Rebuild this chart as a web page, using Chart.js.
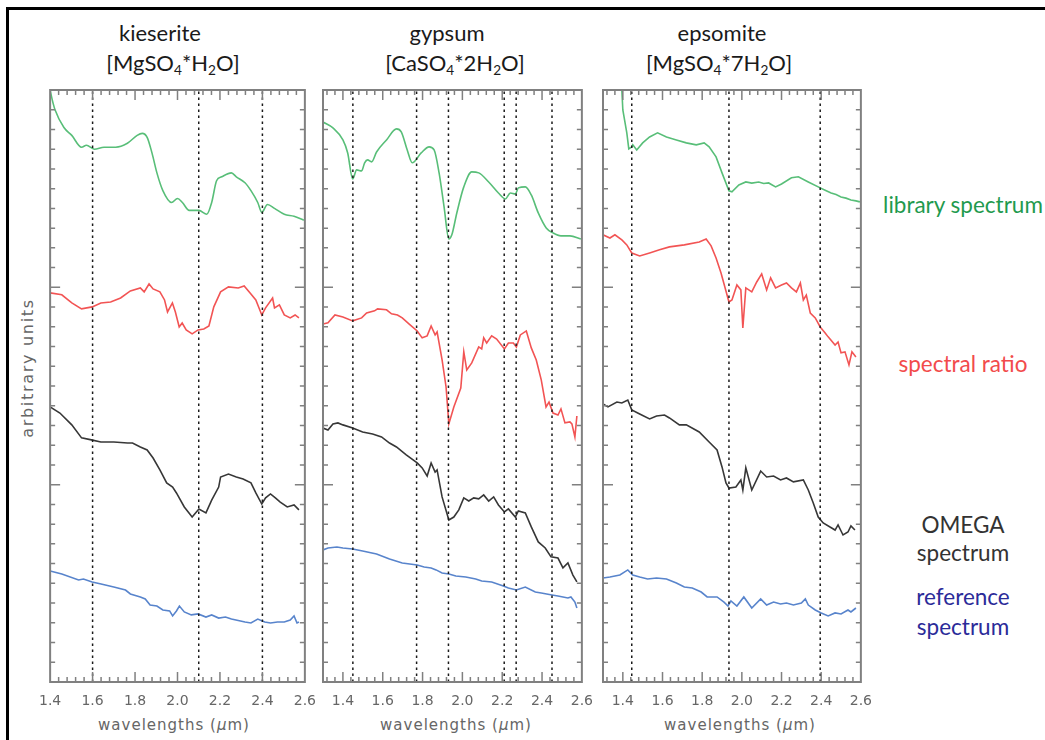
<!DOCTYPE html>
<html>
<head>
<meta charset="utf-8">
<script src="https://cdn.jsdelivr.net/npm/chart.js@4.4.1/dist/chart.umd.min.js"></script>
<style>
  html, body { margin: 0; padding: 0; background: #fff; }
  body { width: 1045px; height: 740px; position: relative; overflow: hidden; font-family: Lato, "Open Sans", sans-serif; }
  .frame { position: absolute; left: 6px; top: 7px; width: 1045px; height: 740px; border-left: 3px solid #000; border-top: 3px solid #000; box-sizing: border-box; }
  canvas { position: absolute; }
  .title { position: absolute; transform: translate(-50%, -50%); font-size: 22px; color: #1a1a1a; white-space: nowrap; line-height: 1; }
  .title sub { font-size: 0.62em; vertical-align: -0.28em; line-height: 0; }
  .xt { position: absolute; transform: translate(-50%, -50%); font: 15px "DejaVu Sans", sans-serif; letter-spacing: 1px; color: #666; white-space: nowrap; }
  .xt i { font-style: italic; }
  .yt { position: absolute; transform: translate(-50%, -50%) rotate(-90deg); font: 16px "DejaVu Sans", sans-serif; letter-spacing: 1.7px; color: #666; white-space: nowrap; }
  .lab { position: absolute; transform: translate(-50%, -50%); font-size: 22.5px; text-align: center; white-space: nowrap; }
</style>
</head>
<body>
<div class="frame"></div>

<div class="title" style="left:160px; top:33px;">kieserite</div>
<div class="title" style="left:173px; top:63px;">[MgSO<sub>4</sub>*H<sub>2</sub>O]</div>
<div class="title" style="left:447px; top:33px;">gypsum</div>
<div class="title" style="left:455px; top:63px;">[CaSO<sub>4</sub>*2H<sub>2</sub>O]</div>
<div class="title" style="left:722px; top:33px;">epsomite</div>
<div class="title" style="left:719px; top:63px;">[MgSO<sub>4</sub>*7H<sub>2</sub>O]</div>

<div class="yt" style="left:27px; top:368px;">arbitrary units</div>
<div class="xt" style="left:174px; top:725px;">wavelengths (<i>μ</i>m)</div>
<div class="xt" style="left:456px; top:725px;">wavelengths (<i>μ</i>m)</div>
<div class="xt" style="left:740px; top:725px;">wavelengths (<i>μ</i>m)</div>

<div class="lab" style="left:963px; top:204px; color:#1f9a4e;">library spectrum</div>
<div class="lab" style="left:963px; top:363px; color:#f24b4b;">spectral ratio</div>
<div class="lab" style="left:963px; top:539px; color:#333; line-height:28px;">OMEGA<br>spectrum</div>
<div class="lab" style="left:963px; top:612px; color:#2b2b99; line-height:30px;">reference<br>spectrum</div>

<canvas id="c1"></canvas>
<canvas id="c2"></canvas>
<canvas id="c3"></canvas>

<script>
// Wavelength tick labels (µm) shared by all three panels
const xTickValues = [1.4, 1.6, 1.8, 2.0, 2.2, 2.4, 2.6];

// ---------- kieserite [MgSO4*H2O] ----------
const kieseriteBands = [1.60, 2.10, 2.40];
const kieseriteLibrary = [
  [1.400,30.0],[1.410,29.5],[1.423,29.0],[1.465,28.1],[1.502,27.7],[1.548,27.1],[1.571,27.2],[1.608,27.0],
  [1.654,27.1],[1.709,27.1],[1.764,27.3],[1.810,27.7],[1.834,27.8],[1.857,27.6],[1.880,26.8],[1.903,25.8],
  [1.931,24.9],[1.972,24.3],[2.000,24.5],[2.023,24.3],[2.055,23.9],[2.101,23.9],[2.138,23.7],[2.161,24.3],
  [2.184,25.4],[2.208,25.6],[2.254,25.8],[2.277,25.6],[2.318,25.3],[2.346,24.9],[2.378,24.3],[2.397,23.8],
  [2.424,24.2],[2.457,24.0],[2.503,23.7],[2.549,23.6],[2.595,23.4]
];
const kieseriteRatio = [
  [1.400,19.72],[1.455,19.62],[1.502,19.21],[1.548,18.91],[1.598,19.01],[1.639,19.21],[1.685,19.26],[1.732,19.46],
  [1.778,19.82],[1.825,19.97],[1.843,19.77],[1.866,20.17],[1.885,19.92],[1.917,19.77],[1.939,19.36],[1.953,18.75],
  [1.976,19.21],[1.990,18.75],[2.008,17.99],[2.022,18.19],[2.041,17.84],[2.069,17.64],[2.097,17.84],[2.124,17.89],
  [2.148,18.04],[2.171,19.01],[2.203,19.77],[2.240,20.02],[2.286,19.97],[2.314,20.07],[2.341,19.72],[2.369,19.36],
  [2.397,18.60],[2.415,18.96],[2.448,19.46],[2.457,18.96],[2.480,19.11],[2.503,18.60],[2.531,18.45],[2.554,18.60],
  [2.572,18.45]
];
const kieseriteOmega = [
  [1.400,13.94],[1.446,13.63],[1.502,13.03],[1.548,12.37],[1.594,12.27],[1.639,12.16],[1.700,12.16],[1.765,12.11],
  [1.788,12.11],[1.825,11.91],[1.857,11.76],[1.885,11.35],[1.917,10.75],[1.949,10.09],[1.977,9.88],[1.995,9.58],
  [2.032,8.87],[2.069,8.36],[2.101,8.77],[2.134,8.57],[2.161,9.22],[2.194,9.88],[2.203,10.39],[2.240,10.54],
  [2.277,10.39],[2.309,10.29],[2.346,10.09],[2.369,9.58],[2.397,9.02],[2.415,9.33],[2.438,9.53],[2.461,9.33],
  [2.484,9.12],[2.517,8.87],[2.549,8.97],[2.572,8.72]
];
const kieseriteReference = [
  [1.400,5.63],[1.455,5.47],[1.534,5.17],[1.557,5.22],[1.598,5.07],[1.640,4.97],[1.700,4.81],[1.755,4.66],
  [1.778,4.46],[1.825,4.31],[1.848,4.21],[1.871,3.90],[1.903,3.85],[1.931,3.65],[1.963,3.60],[1.977,3.35],
  [1.995,3.60],[2.009,3.85],[2.032,3.55],[2.065,3.40],[2.097,3.45],[2.134,3.29],[2.161,3.40],[2.194,3.24],
  [2.226,3.29],[2.254,3.19],[2.318,3.04],[2.346,2.99],[2.378,3.19],[2.411,3.04],[2.438,2.99],[2.471,3.04],
  [2.503,3.04],[2.531,3.14],[2.549,3.35],[2.563,2.99],[2.572,3.04]
];

// ---------- gypsum [CaSO4*2H2O] ----------
const gypsumBands = [1.45, 1.77, 1.93, 2.21, 2.27, 2.45];
const gypsumLibrary = [
  [1.300,28.38],[1.350,28.08],[1.400,27.47],[1.424,26.81],[1.449,25.49],[1.469,25.95],[1.494,25.90],[1.509,26.31],
  [1.524,26.46],[1.544,26.36],[1.569,26.86],[1.619,27.47],[1.669,28.03],[1.693,27.88],[1.723,26.96],[1.748,26.31],
  [1.793,26.81],[1.833,27.12],[1.858,26.96],[1.883,25.80],[1.908,24.08],[1.932,22.45],[1.947,22.66],[1.972,23.77],
  [2.007,25.09],[2.047,25.85],[2.082,25.80],[2.132,25.34],[2.181,24.78],[2.216,24.48],[2.241,24.78],[2.266,24.73],
  [2.281,25.04],[2.316,25.09],[2.346,24.68],[2.381,23.77],[2.421,23.01],[2.455,22.76],[2.495,22.61],[2.540,22.61],
  [2.595,22.45]
];
const gypsumRatio = [
  [1.300,18.14],[1.325,18.20],[1.360,18.60],[1.400,18.50],[1.449,18.30],[1.494,18.45],[1.519,18.70],[1.559,18.81],
  [1.574,18.91],[1.619,18.86],[1.644,18.66],[1.674,18.60],[1.698,18.45],[1.733,18.14],[1.773,17.79],[1.798,17.44],
  [1.823,17.54],[1.843,18.04],[1.863,17.59],[1.873,17.74],[1.898,16.32],[1.918,14.95],[1.932,13.08],[1.957,13.94],
  [1.992,14.90],[2.007,16.73],[2.022,15.81],[2.047,16.17],[2.082,16.98],[2.097,16.88],[2.107,17.44],[2.122,17.18],
  [2.147,17.54],[2.172,17.38],[2.211,16.88],[2.231,17.18],[2.256,17.18],[2.271,16.98],[2.291,17.59],[2.321,17.79],
  [2.346,16.93],[2.371,16.32],[2.396,15.31],[2.420,13.94],[2.435,14.19],[2.455,13.63],[2.480,13.53],[2.495,13.84],
  [2.515,13.13],[2.540,13.18],[2.550,13.08],[2.565,12.42],[2.575,13.48]
];
const gypsumOmega = [
  [1.300,12.87],[1.325,12.77],[1.350,13.08],[1.375,13.13],[1.400,13.03],[1.449,12.87],[1.499,12.67],[1.549,12.57],
  [1.594,12.42],[1.634,12.11],[1.669,11.91],[1.718,11.51],[1.773,11.10],[1.798,10.85],[1.823,10.44],[1.843,11.10],
  [1.863,10.64],[1.873,10.75],[1.898,9.38],[1.932,8.21],[1.957,8.36],[1.982,8.72],[2.007,9.33],[2.032,9.17],
  [2.057,9.33],[2.082,9.28],[2.107,9.48],[2.132,9.17],[2.157,9.38],[2.181,8.97],[2.211,8.62],[2.231,8.77],
  [2.266,8.36],[2.281,8.67],[2.316,8.57],[2.346,7.86],[2.381,7.10],[2.416,6.79],[2.445,6.34],[2.480,6.28],
  [2.505,5.78],[2.530,6.03],[2.555,5.42],[2.575,5.07]
];
const gypsumReference = [
  [1.300,6.69],[1.325,6.79],[1.370,6.84],[1.400,6.79],[1.449,6.74],[1.499,6.64],[1.569,6.49],[1.634,6.23],
  [1.698,6.03],[1.773,5.93],[1.808,5.83],[1.843,5.78],[1.868,5.68],[1.898,5.52],[1.932,5.47],[1.967,5.37],
  [2.017,5.32],[2.067,5.22],[2.097,5.12],[2.147,5.07],[2.206,4.87],[2.231,4.76],[2.271,4.66],[2.316,4.81],
  [2.366,4.56],[2.396,4.51],[2.450,4.41],[2.480,4.36],[2.530,4.26],[2.545,4.31],[2.565,4.05],[2.575,3.75]
];

// ---------- epsomite [MgSO4*7H2O] ----------
const epsomiteBands = [1.445, 1.935, 2.395];
const epsomiteLibrary = [
  [1.390,31.5],[1.395,30.0],[1.400,28.99],[1.420,27.83],[1.430,27.02],[1.445,27.12],[1.450,27.22],[1.470,26.96],
  [1.500,27.32],[1.535,27.62],[1.575,27.83],[1.620,27.62],[1.670,27.47],[1.720,27.32],[1.770,27.22],[1.810,27.32],
  [1.835,27.12],[1.870,26.61],[1.900,25.80],[1.935,24.89],[1.950,24.84],[1.985,25.19],[2.020,25.34],[2.050,25.28],
  [2.085,25.34],[2.110,25.26],[2.135,25.29],[2.170,25.09],[2.200,25.24],[2.250,25.55],[2.285,25.60],[2.335,25.34],
  [2.395,25.04],[2.420,24.92],[2.450,24.78],[2.475,24.70],[2.500,24.58],[2.525,24.52],[2.550,24.43],[2.575,24.38],
  [2.595,24.33]
];
const epsomiteRatio = [
  [1.300,22.66],[1.335,22.50],[1.360,22.66],[1.395,22.40],[1.420,22.15],[1.445,21.74],[1.485,21.59],[1.535,21.74],
  [1.585,21.90],[1.635,22.05],[1.710,22.15],[1.785,22.30],[1.820,22.45],[1.845,22.10],[1.870,21.49],[1.895,20.73],
  [1.935,19.26],[1.950,19.36],[1.975,20.12],[1.995,19.87],[2.005,17.94],[2.020,19.97],[2.050,19.77],[2.075,20.27],
  [2.100,20.68],[2.125,19.87],[2.145,20.48],[2.170,19.97],[2.200,20.12],[2.225,20.22],[2.250,19.97],[2.275,19.77],
  [2.295,20.22],[2.310,19.36],[2.325,19.61],[2.345,18.70],[2.370,18.45],[2.395,17.99],[2.420,17.69],[2.435,17.49],
  [2.470,17.08],[2.485,17.23],[2.500,16.68],[2.520,16.73],[2.540,16.07],[2.555,16.73],[2.575,16.47]
];
const epsomiteOmega = [
  [1.300,14.09],[1.325,13.94],[1.370,14.19],[1.395,14.14],[1.425,14.29],[1.445,13.79],[1.485,13.58],[1.535,13.33],
  [1.570,13.48],[1.610,13.53],[1.635,13.38],[1.685,13.03],[1.720,13.03],[1.785,12.67],[1.835,12.16],[1.875,11.76],
  [1.900,10.90],[1.920,10.09],[1.935,9.83],[1.970,9.88],[1.995,10.24],[2.005,9.73],[2.020,10.85],[2.050,9.73],
  [2.095,10.69],[2.125,10.39],[2.160,10.44],[2.195,10.24],[2.225,10.34],[2.260,10.14],[2.310,10.24],[2.335,9.73],
  [2.360,9.07],[2.385,8.36],[2.410,8.06],[2.470,7.70],[2.485,7.96],[2.510,7.45],[2.535,7.60],[2.550,7.91],
  [2.570,7.70]
];
const epsomiteReference = [
  [1.300,5.27],[1.335,5.32],[1.385,5.42],[1.425,5.68],[1.450,5.42],[1.485,5.32],[1.525,5.22],[1.570,5.27],
  [1.620,5.22],[1.670,5.02],[1.710,4.81],[1.750,4.76],[1.795,4.56],[1.825,4.31],[1.875,4.31],[1.910,4.05],
  [1.930,3.85],[1.945,4.11],[1.975,3.85],[2.010,4.31],[2.050,3.75],[2.095,4.21],[2.125,3.90],[2.160,4.05],
  [2.195,3.95],[2.225,4.00],[2.260,3.90],[2.300,4.00],[2.320,4.21],[2.335,3.90],[2.370,3.65],[2.400,3.50],
  [2.435,3.35],[2.470,3.50],[2.500,3.45],[2.535,3.65],[2.550,3.55],[2.575,3.75]
];

// ---------- drawing ----------
const COLORS = {
  library: 'rgb(88,190,120)',
  ratio: 'rgb(242,84,84)',
  omega: 'rgb(55,55,55)',
  reference: 'rgb(88,132,204)'
};
const AXIS_GRAY = '#808080';
const Y_MIN = 0, Y_MAX = 30;

// Box frame with inward ticks on all four sides, placed via the chart's scales
const frameTicks = {
  id: 'frameTicks',
  afterDatasetsDraw(chart) {
    const { ctx, chartArea: a, scales: { x, y } } = chart;
    const xmin = x.min, xmax = x.max;
    ctx.save();
    ctx.strokeStyle = AXIS_GRAY;
    ctx.lineWidth = 1.5;
    ctx.beginPath();
    // x ticks: majors every 0.2, minors every 0.04
    for (let k = -10; k <= 40; k++) {
      const v = Math.round((1.4 + k * 0.04) * 1000) / 1000;
      if (v <= xmin + 1e-6 || v >= xmax - 1e-6) continue;
      const major = Math.abs(v * 5 - Math.round(v * 5)) < 1e-6;
      const len = major ? 10 : 5;
      const px = x.getPixelForValue(v);
      ctx.moveTo(px, a.bottom); ctx.lineTo(px, a.bottom - len);
      ctx.moveTo(px, a.top); ctx.lineTo(px, a.top + len);
    }
    // y ticks: minors every 1, majors every 10
    for (let v = Y_MIN + 1; v < Y_MAX; v++) {
      const len = v % 10 === 0 ? 10 : 5;
      const py = y.getPixelForValue(v);
      ctx.moveTo(a.left, py); ctx.lineTo(a.left + len, py);
      ctx.moveTo(a.right, py); ctx.lineTo(a.right - len, py);
    }
    ctx.stroke();
    ctx.lineWidth = 2;
    ctx.strokeRect(a.left, a.top, a.right - a.left, a.bottom - a.top);
    ctx.restore();
  }
};

function spectrum(points, color, smooth) {
  return {
    data: points.map(([x, y]) => ({ x, y })),
    borderColor: color,
    borderWidth: 1.6,
    pointRadius: 0,
    tension: smooth ? 0.4 : 0,
    cubicInterpolationMode: smooth ? 'monotone' : 'default',
    fill: false
  };
}

function bandLine(v) {
  return {
    data: [{ x: v, y: Y_MIN }, { x: v, y: Y_MAX }],
    borderColor: '#1a1a1a',
    borderWidth: 1.5,
    borderDash: [2.5, 3.5],
    pointRadius: 0,
    fill: false
  };
}

const PAD = 20;
const panels = [
  { id: 'c1', left: 48, right: 307, xmin: 1.4, bands: kieseriteBands,
    series: [kieseriteLibrary, kieseriteRatio, kieseriteOmega, kieseriteReference], smoothLib: true },
  { id: 'c2', left: 323, right: 584, xmin: 1.3, bands: gypsumBands,
    series: [gypsumLibrary, gypsumRatio, gypsumOmega, gypsumReference], smoothLib: true },
  { id: 'c3', left: 603, right: 863, xmin: 1.3, bands: epsomiteBands,
    series: [epsomiteLibrary, epsomiteRatio, epsomiteOmega, epsomiteReference], smoothLib: false }
];

panels.forEach(p => {
  const cv = document.getElementById(p.id);
  const w = p.right - p.left + 2 * PAD;
  const h = 632;
  cv.width = w; cv.height = h;
  cv.style.left = (p.left - PAD) + 'px';
  cv.style.top = '80px';
  cv.style.width = w + 'px';
  cv.style.height = h + 'px';

  const datasets = [
    ...p.bands.map(bandLine),
    spectrum(p.series[0], COLORS.library, p.smoothLib),
    spectrum(p.series[1], COLORS.ratio, false),
    spectrum(p.series[2], COLORS.omega, false),
    spectrum(p.series[3], COLORS.reference, false)
  ];

  new Chart(cv, {
    type: 'line',
    data: { datasets },
    options: {
      responsive: false,
      animation: false,
      devicePixelRatio: 1,
      parsing: true,
      layout: { padding: { left: PAD, right: PAD, top: 10, bottom: 0 } },
      plugins: { legend: { display: false }, tooltip: { enabled: false } },
      scales: {
        x: {
          type: 'linear',
          min: p.xmin,
          max: 2.6,
          afterBuildTicks: s => { s.ticks = xTickValues.map(v => ({ value: v })); },
          afterFit: s => { s.height = 30; },
          grid: { display: false, drawTicks: false },
          border: { display: false },
          ticks: {
            padding: 11,
            maxRotation: 0,
            autoSkip: false,
            color: '#666',
            font: { family: 'DejaVu Sans', size: 14 },
            callback: v => Number(v).toFixed(1)
          }
        },
        y: {
          type: 'linear',
          display: false,
          min: Y_MIN,
          max: Y_MAX
        }
      }
    },
    plugins: [frameTicks]
  });
});
</script>
</body>
</html>
